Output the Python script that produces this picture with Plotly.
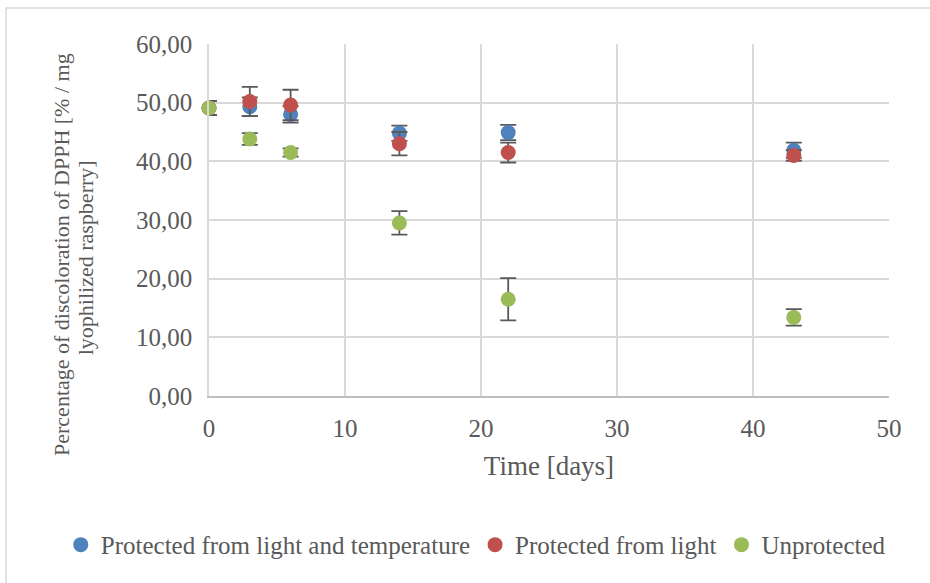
import plotly.graph_objects as go

days = [0, 3, 6, 14, 22, 43]

series_names = ["Protected from light and temperature", "Protected from light", "Unprotected"]
protected_light_temp = [49.1, 49.3, 48.0, 44.8, 44.9, 41.9]
protected_light_temp_err = [1.2, 1.6, 1.4, 1.3, 1.3, 1.3]
protected_light = [49.1, 50.2, 49.6, 43.0, 41.5, 41.0]
protected_light_err = [1.2, 2.5, 2.6, 2.0, 1.7, 0.9]
unprotected = [49.1, 43.8, 41.5, 29.5, 16.5, 13.4]
unprotected_err = [1.2, 1.0, 0.7, 2.0, 3.6, 1.4]

colors = ["#4F81BD", "#C0504D", "#9BBB59"]

x_ticks = [0, 10, 20, 30, 40, 50]
y_ticks = [0, 10, 20, 30, 40, 50, 60]

y_title_lines = ["Percentage of discoloration of DPPH [% / mg", "lyophilized raspberry]"]

FONT = "Liberation Serif"
TXT = "#595959"

fig = go.Figure()
for name, vals, errs, col in zip(series_names,
                                 [protected_light_temp, protected_light, unprotected],
                                 [protected_light_temp_err, protected_light_err, unprotected_err],
                                 colors):
    fig.add_trace(go.Scatter(
        x=days, y=vals, mode="markers", name=name,
        marker=dict(color=col, size=15, line=dict(width=0)),
        error_y=dict(type="data", array=errs, visible=True, color="#595959",
                     thickness=1.8, width=8),
        cliponaxis=False,
    ))

fig.update_layout(
    width=930, height=583,
    margin=dict(l=209, r=41, t=44, b=187),
    paper_bgcolor="white", plot_bgcolor="white",
    separators=",.",
    font=dict(family=FONT, color=TXT, size=25),
    showlegend=True,
    legend=dict(orientation="h", x=-0.218, xanchor="left", y=-0.423, yanchor="middle",
                font=dict(family=FONT, size=25, color=TXT), itemwidth=30,
                traceorder="normal", bgcolor="rgba(0,0,0,0)"),
    xaxis=dict(range=[0, 50], tickvals=x_ticks, showgrid=True, gridcolor="#D9D9D9",
               gridwidth=1.5, zeroline=False, showline=True, linecolor="#BFBFBF",
               linewidth=2, ticks="", ticklabelstandoff=9,
               tickfont=dict(family=FONT, size=25, color=TXT),
               title=dict(text="Time [days]", font=dict(family=FONT, size=27, color=TXT),
                          standoff=15)),
    yaxis=dict(range=[0, 60], tickvals=y_ticks, tickformat=".2f", showgrid=True,
               gridcolor="#D9D9D9", gridwidth=1.5, zeroline=False, showline=True,
               linecolor="#D9D9D9", linewidth=1.5, ticks="", ticklabelstandoff=10,
               tickfont=dict(family=FONT, size=25, color=TXT)),
)

for line_text, xp, yp in zip(y_title_lines, [-0.216, -0.182], [0.401, 0.392]):
    fig.add_annotation(
        xref="paper", yref="paper", x=xp, y=yp, xanchor="center", yanchor="middle",
        textangle=-90, showarrow=False, text=line_text,
        font=dict(family=FONT, size=22, color=TXT),
    )

fig.add_shape(type="rect", xref="paper", yref="paper",
              x0=-0.2985, x1=1.08, y0=-0.6, y1=1.102,
              line=dict(color="#D9D9D9", width=1.5), fillcolor="rgba(0,0,0,0)", layer="below")

fig.write_html("out.html")
